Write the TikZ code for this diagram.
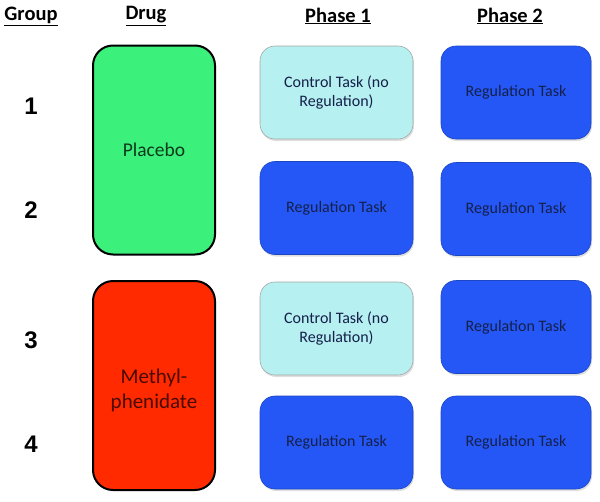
\documentclass[tikz,border=0pt]{standalone}
\usepackage{fontspec}
\setmainfont{Carlito}
\newfontfamily\arialfont{Liberation Sans}
\usetikzlibrary{shadows}
\definecolor{plgreen}{HTML}{3CF07C}
\definecolor{mpred}{HTML}{FF2A00}
\definecolor{ctrlcyan}{HTML}{B6F0F0}
\definecolor{regblue}{HTML}{2457F5}
\definecolor{boxtext}{HTML}{15204A}
\definecolor{greentext}{HTML}{0E3A1C}
\definecolor{redtext}{HTML}{4A0A00}
\tikzset{
  hdr/.style={font=\fontsize{20.5}{23}\selectfont\bfseries, anchor=center},
  grp/.style={font=\arialfont\fontsize{24}{26}\selectfont\bfseries, anchor=center},
  drugbox/.style={draw=black, line width=2pt, rounded corners=20pt, minimum width=122pt, minimum height=209pt, align=center},
  taskbox/.style={rounded corners=15pt, minimum width=153pt, minimum height=93pt, align=center, font=\fontsize{16}{18.5}\selectfont, text=boxtext, draw=black!35, line width=0.6pt, drop shadow={opacity=0.25, shadow xshift=1pt, shadow yshift=-2pt}},
  ctrl/.style={taskbox, fill=ctrlcyan},
  reg/.style={taskbox, fill=regblue, draw=regblue!80!black},
}
\begin{document}
\begin{tikzpicture}[x=1pt,y=-1pt]
\useasboundingbox (0,0) rectangle (600,501);
\node[hdr] (hg) at (31,16) {\underline{Group}};
\node[hdr] (hd) at (146,16) {\underline{Drug}};
\node[hdr] (h1) at (338,16) {\underline{Phase 1}};
\node[hdr] (h2) at (510,16) {\underline{Phase 2}};
\node[grp] (g1) at (31,106) {1};
\node[grp] (g2) at (31,210) {2};
\node[grp] (g3) at (31,340) {3};
\node[grp] (g4) at (31,444) {4};
\node[drugbox, fill=plgreen, font=\fontsize{19.5}{23}\selectfont, text=greentext] (placebo) at (154,150) {Placebo};
\node[drugbox, fill=mpred] (methyl) at (154,385.5) {};
\node[align=center, font=\fontsize{21}{25}\selectfont, text=redtext] (methyltext) at (154,390) {Methyl-\\phenidate};
\node[ctrl] (p1a) at (336.5,92.5) {Control Task (no\\Regulation)};
\node[reg] (p1b) at (336.5,208) {Regulation Task};
\node[ctrl] (p1c) at (336.5,328.5) {Control Task (no\\Regulation)};
\node[reg] (p1d) at (336.5,442.5) {Regulation Task};
\node[reg, minimum width=150pt] (p2a) at (516,92.5) {Regulation Task};
\node[reg, minimum width=150pt] (p2b) at (516,209) {Regulation Task};
\node[reg, minimum width=150pt] (p2c) at (516,327) {Regulation Task};
\node[reg, minimum width=150pt] (p2d) at (516,442.5) {Regulation Task};
\end{tikzpicture}
\end{document}
